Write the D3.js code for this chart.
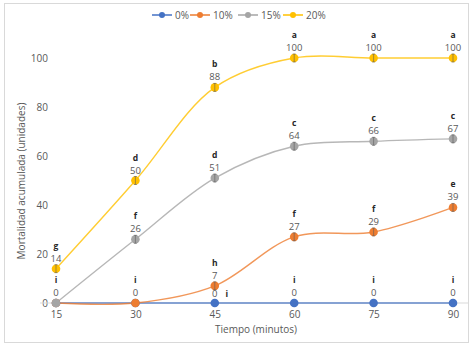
<!DOCTYPE html>
<html><head><meta charset="utf-8">
<script src="https://cdn.jsdelivr.net/npm/d3@7"></script>
<style>body{margin:0;background:#fff}svg{display:block;font-family:"Open Sans",Calibri,Arial,sans-serif}</style>
</head><body><svg id="c" width="474" height="349"></svg>
<script>
const times = [15, 30, 45, 60, 75, 90];
const seriesNames = ["0%", "10%", "15%", "20%"];
const colors = ["#4472C4", "#ED7D31", "#A5A5A5", "#FFC000"];
const s0 = [0, 0, 0, 0, 0, 0];
const s10 = [0, 0, 7, 27, 29, 39];
const s15 = [0, 26, 51, 64, 66, 67];
const s20 = [14, 50, 88, 100, 100, 100];
const l0 = ["i", "i", "i", "i", "i", "i"];
const l10 = ["", "", "h", "f", "f", "e"];
const l15 = ["", "f", "d", "c", "c", "c"];
const l20 = ["g", "d", "b", "a", "a", "a"];
const yTicks = [0, 20, 40, 60, 80, 100];

const values = [s0, s10, s15, s20];
const letters = [l0, l10, l15, l20];

const svg = d3.select("#c");
svg.append("rect").attr("x", 4.5).attr("y", 3.5).attr("width", 464).attr("height", 339)
  .attr("fill", "#fff").attr("stroke", "#d9d9d9");

const x = d3.scaleLinear().domain([15, 90]).range([56, 453]);
const y = d3.scaleLinear().domain([0, 100]).range([303, 58]);

const ya = svg.append("g").attr("transform", "translate(48,0)")
  .call(d3.axisLeft(y).tickValues(yTicks).tickSize(0).tickPadding(0));
ya.select(".domain").remove();
ya.selectAll("text").attr("fill", "#595959").style("font-size", "10px").attr("font-family", "Open Sans");

svg.append("line").attr("x1", 40).attr("x2", 468).attr("y1", y(0)).attr("y2", y(0)).attr("stroke", "#d9d9d9");
const xa = svg.append("g").attr("transform", `translate(0,${y(0)})`)
  .call(d3.axisBottom(x).tickValues(times).tickSize(0).tickPadding(8));
xa.select(".domain").remove();
xa.selectAll("text").attr("fill", "#595959").style("font-size", "10px").attr("font-family", "Open Sans");

svg.append("text").attr("x", 256).attr("y", 333).attr("text-anchor", "middle")
  .attr("fill", "#595959").style("font-size", "10px").text("Tiempo (minutos)");
svg.append("text").attr("transform", "translate(25,181) rotate(-90)").attr("text-anchor", "middle")
  .attr("fill", "#595959").style("font-size", "10px").text("Mortalidad acumulada (unidades)");

const legX = [152, 190, 238, 283];
seriesNames.forEach((n, i) => {
  const g = svg.append("g").attr("transform", `translate(${legX[i]},15)`);
  g.append("line").attr("x1", 0).attr("x2", 20).attr("stroke", colors[i]).attr("stroke-width", 1.5);
  g.append("circle").attr("cx", 10).attr("r", 3).attr("fill", colors[i]);
  g.append("text").attr("x", 23).attr("y", 3.5).attr("fill", "#595959").style("font-size", "10px").text(n);
});

const line = d3.line().x((d, i) => x(times[i])).y(d => y(d)).curve(d3.curveCatmullRom.alpha(0.5));
values.forEach((vals, si) => {
  svg.append("path").attr("d", line(vals)).attr("fill", "none")
    .attr("stroke", colors[si]).attr("stroke-width", 1.4).attr("opacity", 0.8);
});
[0, 1, 2, 3].forEach(si => {
  svg.selectAll(null).data(values[si]).enter().append("circle")
    .attr("cx", (d, i) => x(times[i])).attr("cy", d => y(d)).attr("r", 4.3)
    .attr("fill", colors[si]);
});
[1, 2, 3].forEach(si => {
  values[si].forEach((v, i) => {
    if (v === 0) return;
    const cx = x(times[i]), cy = y(v);
    svg.append("path").attr("d", `M${cx - 1.5},${cy - 4}H${cx + 1.5}M${cx},${cy - 4}V${cy + 4}M${cx - 1.5},${cy + 4}H${cx + 1.5}`)
      .attr("stroke", "#595959").attr("stroke-width", 0.8).attr("fill", "none").attr("opacity", 0.7);
  });
});

function label(cx, cy, val, let) {
  svg.append("text").attr("x", cx).attr("y", cy - 7).attr("text-anchor", "middle")
    .attr("fill", "#595959").style("font-size", "9.5px").text(val);
  if (let) svg.append("text").attr("x", cx).attr("y", cy - 20).attr("text-anchor", "middle")
    .attr("fill", "#262626").style("font-size", "8.5px").style("font-weight", "bold").text(let);
}
values.forEach((vals, si) => {
  vals.forEach((v, i) => {
    if (si > 0 && v === 0) return;
    const cx = x(times[i]), cy = y(v);
    if (si === 0 && i === 2) {
      svg.append("text").attr("x", cx).attr("y", cy - 6).attr("text-anchor", "middle")
        .attr("fill", "#595959").style("font-size", "9.5px").text(v);
      svg.append("text").attr("x", cx + 12).attr("y", cy - 6).attr("text-anchor", "middle")
        .attr("fill", "#262626").style("font-size", "8.5px").style("font-weight", "bold").text(letters[si][i]);
      return;
    }
    label(cx, cy, v, letters[si][i]);
  });
});
</script></body></html>
